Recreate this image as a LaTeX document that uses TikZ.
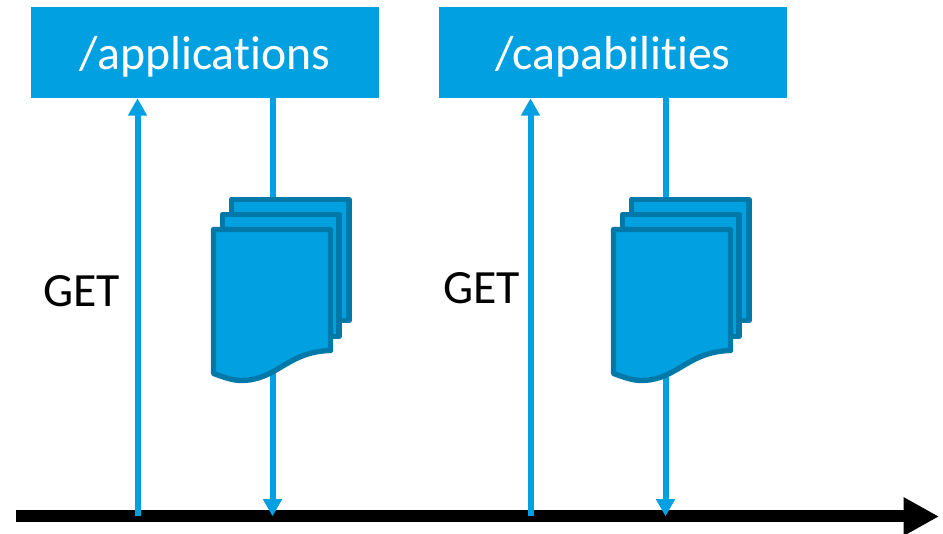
\documentclass[tikz,border=0pt]{standalone}
\usepackage{fontspec}
\setmainfont{Carlito}[RawFeature=-liga]
\usetikzlibrary{calc,arrows.meta}
\definecolor{boxblue}{HTML}{00A0E1}
\definecolor{docedge}{HTML}{0079A8}
\tikzset{
  endpoint/.style={rectangle,fill=boxblue,text=white,minimum width=261pt,minimum height=68.25pt,inner sep=0pt,text height=26.2pt,text depth=0pt,font=\fontsize{35.8}{42}\selectfont},
  verb/.style={inner sep=0pt,font=\fontsize{35.8}{42}\selectfont},
  flow/.style={draw=boxblue,line width=4.5pt,-{Triangle[length=13pt,width=13.5pt]}},
  sheet/.style={draw=docedge,fill=boxblue,line width=4pt,line join=round},
  pics/docstack/.style={code={
    \draw[sheet] (19.5,-30) rectangle (137,91);
    \draw[sheet] (10.5,-15) rectangle (127,107);
    \draw[sheet] (1.5,0) -- (118.5,0) -- (118.5,121) .. controls (75,122) and (65,151) .. (29,151) .. controls (20,151) and (10,147) .. (1.5,144) -- cycle;
  }}
}
\begin{document}
\begin{tikzpicture}[x=0.75pt,y=-0.75pt]
  \useasboundingbox (0,0) rectangle (943,534);
  \node[endpoint] (apps) at (205,52.5) {/applications};
  \node[endpoint] (caps) at (613,52.5) {/capabilities};
  \node[verb] (get1) at (81.5,291) {GET};
  \node[verb] (get2) at (481.5,288) {GET};

  \coordinate (axisl) at (16,516.5);
  \coordinate (axisr) at (939,516.5);
  \draw[line width=9pt,-{Triangle[length=26.5pt,width=27pt]}] (axisl) -- (axisr);

  \coordinate (appsget) at (137.5,516.5);
  \coordinate (appsres) at (272.5,516.5);
  \coordinate (capsget) at (530.5,516.5);
  \coordinate (capsres) at (665.5,516.5);
  \draw[flow] (appsget) -- (appsget |- apps.south);
  \draw[flow] (appsres |- apps.south) -- (appsres);
  \draw[flow] (capsget) -- (capsget |- caps.south);
  \draw[flow] (capsres |- caps.south) -- (capsres);

  \pic (appsdoc) at (212,229.5) {docstack};
  \pic (capsdoc) at (612,229.5) {docstack};
\end{tikzpicture}
\end{document}
